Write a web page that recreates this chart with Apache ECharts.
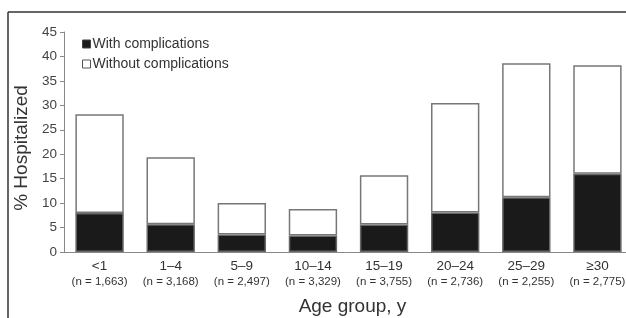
<!DOCTYPE html>
<html>
<head>
<meta charset="utf-8">
<script src="https://cdn.jsdelivr.net/npm/echarts@6/dist/echarts.min.js"></script>
<style>
  html, body { margin: 0; padding: 0; background: #fff; }
  #chart { width: 626px; height: 318px; }
</style>
</head>
<body>
<div id="chart"></div>
<script>
const ageGroups = ['<1', '1–4', '5–9', '10–14', '15–19', '20–24', '25–29', '≥30'];
const sampleSizes = ['1,663', '3,168', '2,497', '3,329', '3,755', '2,736', '2,255', '2,775'];
const withComplications = [8.0, 5.7, 3.6, 3.4, 5.6, 8.1, 11.2, 16.0];
const withoutComplications = [20.2, 13.7, 6.4, 5.4, 10.1, 22.4, 27.4, 22.2];
const yTicks = [0, 5, 10, 15, 20, 25, 30, 35, 40, 45];

const font = 'Liberation Sans';
const chart = echarts.init(document.getElementById('chart'), null, { renderer: 'canvas' });

const option = {
    backgroundColor: '#fff',
    animation: false,
    textStyle: { fontFamily: font },
    grid: {
        left: 64,
        right: -7,
        top: 32,
        bottom: 66,
        outerBoundsMode: 'none'
    },
    legend: {
        orient: 'vertical',
        left: 77,
        top: 32,
        icon: 'rect',
        itemWidth: 8,
        itemHeight: 8,
        itemGap: 6,
        textStyle: { fontFamily: font, fontSize: 14, color: '#333', padding: [0, 0, 0, -3] },
        data: [
            { name: 'With complications', itemStyle: { color: '#1a1a1a', borderColor: '#444', borderWidth: 1 } },
            { name: 'Without complications', itemStyle: { color: '#fff', borderColor: '#555', borderWidth: 1 } }
        ]
    },
    xAxis: {
        type: 'category',
        data: ageGroups,
        name: 'Age group, y',
        nameLocation: 'middle',
        nameGap: 45,
        nameTextStyle: { fontFamily: font, fontSize: 19, color: '#333', padding: [0, 0, 0, 8] },
        axisLine: { lineStyle: { color: '#888', width: 1 } },
        axisTick: { show: false },
        axisLabel: {
            interval: 0,
            margin: 6,
            formatter: (v, i) => '{a|' + v + '}\n{b|(n = ' + sampleSizes[i] + ')}',
            rich: {
                a: { fontFamily: font, fontSize: 13.5, color: '#333', lineHeight: 16 },
                b: { fontFamily: font, fontSize: 11.5, color: '#333', lineHeight: 15 }
            }
        }
    },
    yAxis: {
        type: 'value',
        min: yTicks[0],
        max: yTicks[yTicks.length - 1],
        interval: 5,
        name: '% Hospitalized',
        nameLocation: 'middle',
        nameGap: 27,
        nameRotate: 90,
        nameTextStyle: { fontFamily: font, fontSize: 19, color: '#333', padding: [0, 12, 0, 0] },
        axisLine: { show: true, lineStyle: { color: '#888', width: 1 } },
        axisTick: { show: true, length: 4, lineStyle: { color: '#888' } },
        axisLabel: { fontFamily: font, fontSize: 13.5, color: '#444', margin: 7 },
        splitLine: { show: false }
    },
    series: [
        {
            name: 'With complications',
            type: 'bar',
            stack: 'total',
            barCategoryGap: '32%',
            data: withComplications,
            itemStyle: { color: '#1a1a1a', borderColor: '#666', borderWidth: 1.5 }
        },
        {
            name: 'Without complications',
            type: 'bar',
            stack: 'total',
            barCategoryGap: '32%',
            data: withoutComplications,
            itemStyle: { color: '#fff', borderColor: '#777', borderWidth: 1.5 }
        }
    ],
    graphic: [
        { type: 'line', shape: { x1: 8, y1: 12, x2: 626, y2: 12 }, style: { stroke: '#333', lineWidth: 1.5 } },
        { type: 'line', shape: { x1: 8, y1: 12, x2: 8, y2: 318 }, style: { stroke: '#333', lineWidth: 1.5 } }
    ]
};

chart.setOption(option);
</script>
</body>
</html>
